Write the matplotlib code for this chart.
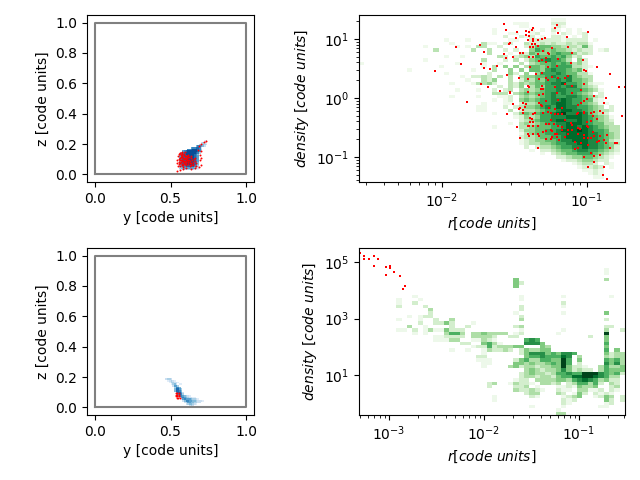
import numpy as np
import matplotlib
matplotlib.use('Agg')
import matplotlib.pyplot as plt
from matplotlib.ticker import NullLocator

# Box drawn in the position panels
box_x = [0, 1, 1, 0, 0]
box_y = [0, 0, 1, 1, 0]

# Position histogram, upper panel (Blues levels, first row 75 and first column 54 of 100)
pos_top_rows = [
    "000000000000000012", "000000000000002321", "000000000000034432",
    "00000000000466542", "000000005667762", "000000667888763",
    "000567888888762", "00567888888763", "0567788888764", "0567778888765",
    "0567778888765", "0567788888765", "0567788888765", "0567778888764",
    "0567778888764", "0456677777653", "0344555555432", "0122333333211",
]
# Red points, upper panel
pos_top_y = [.736, .719, .703, .688, .682, .703, .692, .703, .692, .703, .688, .660, .638, .584, .562, .540,
             .551, .544, .544, .551, .562, .579, .594, .616, .638, .660, .562, .573, .584, .594, .605, .616,
             .627, .638, .562, .584, .605, .627, .649, .671, .660, .573, .594, .562, .584, .616, .562, .584,
             .605, .671, .556, .568, .577, .589, .599, .611, .622, .633, .557, .566, .579, .588, .601, .609,
             .624, .642, .553, .571, .583, .592, .603, .618, .629, .651, .559, .574, .587, .596, .613, .636,
             .565, .578, .591, .607, .575, .568, .598, .612, .645, .655]
pos_top_z = [.222, .211, .202, .189, .163, .152, .130, .108, .098, .065, .050, .043, .037, .037, .032, .021,
             .054, .076, .098, .119, .141, .148, .146, .130, .119, .108, .108, .098, .087, .108, .087, .098,
             .087, .076, .076, .065, .065, .054, .065, .076, .087, .124, .124, .093, .108, .115, .054, .050,
             .043, .054, .134, .128, .136, .131, .118, .122, .112, .105, .101, .112, .117, .099, .103, .093,
             .092, .098, .085, .082, .091, .079, .076, .081, .072, .081, .066, .071, .074, .069, .068, .062,
             .141, .139, .136, .109, .060, .093, .091, .085, .071, .102]

# Position histogram, lower panel (first row 78 and first column 47 of 100)
pos_bot_rows = [
    "2332", "012321", "00133221", "0001342011", "00002553", "000003664",
    "0000047753", "0000047764", "00000057752", "00000036763", "000000036654321",
    "000000002565432211", "00000000025655543321", "00000000002466554432221",
    "000000000002355443322", "0000000000002344321", "00000000000000232",
]
pos_bot_y = [.535, .545, .555, .535, .545, .555, .535, .545, .555, .540, .550, .560]
pos_bot_z = [.095, .095, .095, .085, .085, .085, .075, .075, .075, .065, .065, .065]

# Density histogram, upper panel: level rows starting at column 22 of 50
top_rows = [
    "", "00000000000000111", "00000001110000222", "00000000110000121",
    "00010000001010210101", "000100110012001021012", "000002002120102210102",
    "00000011002222221222201", "0311022003223232232331", "3300200002355544333252",
    "0030020200465454432322012", "0030001032544456554232", "00003202343655656423",
    "030002030245676653042", "010010003034556565342", "0103040403554566663321",
    "000300404055467665452", "0020004204046667655331", "2320303034455676675433",
    "0324003024354667675543", "334200324345567786654211", "000020324035466767754320",
    "100202303434566776665431", "000333034545567676654302", "100011203434567667765432",
    "000101204545667787665521", "0100011023346678876654311", "11000202344567688776654302",
    "11000030233456678877654332", "0001000245456678977875432", "00000001243466777888765431",
    "00000000234566788778765432", "00000010343456677888765533", "000100003345556678878765433",
    "000000002445566788898766533", "000000001345566778888776543", "000000002334556678888776543",
    "000000001234455677888776532", "000000001233445667788776543", "000000000202334566778776542",
    "000000000010223455677665432", "000000000000102345566654321", "00000000000000022344554321",
    "0000000000000000122344322", "00000000000000000012332021",
    "00000000000000000001223201", "000000000000000000001121",
    "000000000000000000000121", "000000000000000000000011", "",
]
top_low_col = [0, 9, 12, 14, 12, 16, 16, 17, 15, 16, 17, 18, 18, 18, 17, 19, 19, 20, 20, 21, 21, 20, 21, 21]
top_low_row = [14, 16, 9, 10, 13, 7, 12, 8, 15, 17, 20, 9, 14, 22, 24, 18, 12, 7, 9, 10, 16, 19, 18, 20]
top_low_level = [1, 1, 1, 3, 1, 1, 1, 1, 1, 1, 1, 1, 1, 1, 1, 1, 1, 1, 1, 3, 1, 1, 2, 1]

# Red points, upper density panel (log10 of r and density)
top_log_r = [-1.57, -1.56, -1.21, -1.22, -1.20, -1.37, -1.38, -1.42, -1.40, -1.48, -1.42, -1.40, -0.99, -1.49, -1.41,
             -1.37, -1.37, -1.34, -1.31, -1.29, -1.14, -1.54, -1.53, -1.38, -1.36, -1.39, -1.37, -1.34, -1.49, -1.24,
             -1.13, -1.71, -1.57, -1.56, -1.51, -1.46, -1.44, -1.40, -1.37, -1.34, -1.30, -1.27, -1.26, -1.28, -1.31,
             -1.33, -1.20, -1.10, -1.03, -1.11, -1.28, -1.73, -1.71, -1.67, -1.62, -1.39, -1.27, -1.21, -1.02, -1.01,
             -0.93, -0.84, -1.35, -1.31, -1.55, -1.47, -1.41, -1.33, -1.28, -1.27, -1.24, -1.20, -1.15, -1.13, -1.73,
             -1.68, -1.60, -1.53, -1.53, -1.41, -1.40, -1.41, -1.31, -1.32, -1.30, -1.22, -1.15, -1.10, -1.02, -0.78,
             -0.74, -1.04, -1.21, -1.10, -1.30, -1.33, -0.95, -1.00, -1.02, -0.87, -0.88, -1.28, -1.20, -1.33, -1.44,
             -1.42, -1.51, -1.32, -1.31, -1.06, -1.04, -1.43, -1.46, -1.47, -1.44, -1.17, -1.22, -1.26, -1.55, -1.44,
             -1.36, -1.37, -1.30, -1.27, -1.25, -1.22, -1.20, -1.17, -1.07, -1.06, -1.02, -1.02, -0.97, -0.95, -0.91,
             -0.89, -0.96, -0.76, -1.39, -1.38, -1.15, -1.25, -0.97, -0.93, -1.39, -1.37, -1.40, -1.41, -1.37, -1.34,
             -1.48, -1.28, -1.26, -1.23, -1.20, -1.17, -1.11, -1.10, -1.06, -1.05, -1.00, -1.00, -0.99, -1.30, -1.28,
             -1.25, -1.24, -1.17, -1.13, -1.10, -0.96, -1.41, -1.40, -1.37, -1.34, -1.33, -1.46, -1.28, -1.25, -1.24,
             -1.22, -1.21, -1.21, -1.19, -1.15, -1.13, -1.06, -1.02, -1.02, -0.99, -0.97, -0.95, -0.91, -0.86, -0.92,
             -0.88, -0.87, -0.93, -1.04, -1.08, -0.99, -0.84, -0.81, -0.79, -1.08, -1.06, -1.34, -0.97, -1.02, -0.95,
             -0.91, -0.95, -0.99, -0.88, -0.89, -0.86, -2.05, -1.90, -1.74, -1.87, -1.83]
top_log_rho = [1.25, 1.15, 1.24, 1.18, 1.10, 1.18, 1.16, 1.13, 1.12, 1.12, 1.07, 1.05, 1.12, 1.02, .98,
               1.00, .96, .98, 1.00, 1.02, 1.03, .91, .93, .91, .91, .86, .86, .88, .86, .85,
               .86, .78, .74, .68, .69, .76, .76, .69, .69, .74, .79, .76, .74, .67, .64,
               .63, .66, .76, .64, .59, .61, .57, .51, .49, .54, .52, .52, .54, .47, .46,
               .52, .41, .41, .42, .39, .34, .32, .32, .34, .30, .35, .34, .34, .37, .24,
               .19, .12, .10, .08, .20, .19, .11, .20, .15, .15, .19, .24, .20, .24, .19,
               .19, .13, .08, .08, .07, .05, .03, -.02, -.05, 0, -.09, -.05, -.04, -.09, -.09,
               -.10, -.10, -.12, -.14, -.12, -.09, -.15, -.17, -.19, -.20, -.17, -.19, -.17, -.27, -.26,
               -.26, -.27, -.26, -.24, -.26, -.27, -.27, -.27, -.27, -.26, -.24, -.26, -.26, -.24, -.22,
               -.26, -.31, -.31, -.34, -.36, -.37, -.37, -.39, -.36, -.41, -.41, -.48, -.48, -.48, -.48,
               -.49, -.44, -.44, -.44, -.48, -.49, -.43, -.46, -.51, -.53, -.41, -.48, -.49, -.58, -.56,
               -.54, -.56, -.54, -.55, -.54, -.58, -.61, -.65, -.61, -.61, -.65, -.68, -.70, -.70, -.66,
               -.61, -.61, -.66, -.71, -.66, -.61, -.61, -.63, -.68, -.68, -.68, -.65, -.65, -.63, -.73,
               -.71, -.76, -.75, -.76, -.75, -.80, -.85, -.76, -.76, -.87, -.85, -.85, -.93, -1.00, -.98,
               -.97, -1.09, -1.17, -1.17, -1.31, -1.37, .46, .86, .90, .58, -.07]

# Density histogram, lower panel: level rows starting at column 23 of 50
bot_rows = [
    "", "", "", "", "", "", "000000000000000000000001", "000000000000000000000001", "",
    "000000400000000000000003", "00000042", "0000004", "", "",
    "0000000100000001000000001", "00000001", "0000000000000002", "0000000200000001",
    "00000002", "000000100000000100000004", "00000002", "000000030000000000000002", "",
    "0000002300000000000000022", "000000010000000100000003002",
    "433330120000001000000008", "332002200000000000002004", "321000005650000000000004",
    "453100006664000000000005", "252333440004300000000004", "13223202433440000000000504",
    "100000024666454665000004233", "200000004556555760300003233",
    "110000245335544850400005453", "110000443433454950200006463",
    "100003423323344842210035334", "000000003432334642322035444",
    "000000023433235565588965452", "00000002332332455778976533",
    "00000012203333443567653422", "02300132210332302355352032",
    "02000022301000112143340023", "00000032232100211033112021",
    "0000000023300032014202121", "001000000210000123400124302",
    "001000000000000212000004202", "0000000000000002100000012",
    "000000000100000100000011", "000000000000001", "0000000000000033",
]
bot_low_col = [7, 7, 7, 10, 10, 11, 12, 13, 13, 7, 9, 11, 11, 12, 13, 14, 17, 11, 12, 14, 15, 16, 17, 17, 20, 21, 9,
               7, 8, 10, 12, 13, 14, 15, 16, 17, 18, 19, 10, 12, 16, 17, 18, 19, 21, 22, 14, 15, 16, 17, 18, 19,
               21, 22, 14, 15, 16, 17, 18, 21, 22, 19, 20, 21, 22, 17, 20, 22, 22]
bot_low_row = [15, 16, 17, 14, 16, 15, 17, 18, 19, 21, 20, 20, 21, 20, 20, 21, 21, 22, 23, 22, 22, 22, 22, 23, 23, 22, 23,
               24, 24, 24, 24, 24, 24, 24, 24, 24, 24, 24, 25, 25, 25, 25, 25, 25, 25, 25, 26, 26, 26, 26, 26, 26,
               26, 26, 27, 27, 27, 27, 27, 27, 27, 28, 28, 29, 29, 30, 30, 32, 33]
bot_low_level = [1, 1, 2, 1, 2, 1, 2, 3, 2, 1, 1, 1, 1, 2, 2, 2, 3, 2, 1, 2, 2, 4, 2, 2, 2, 1, 3,
                 1, 1, 2, 1, 3, 1, 1, 4, 2, 2, 2, 1, 1, 3, 5, 5, 3, 3, 3, 1, 1, 2, 2, 2, 2,
                 3, 3, 1, 1, 1, 3, 3, 1, 1, 2, 2, 1, 2, 1, 1, 2, 1]

# Red points, lower density panel (log10 of r and density)
bot_log_r = [-3.31, -3.26, -3.26, -3.21, -3.16, -3.12, -3.16, -3.03, -2.99, -2.99, -2.95, -3.03, -2.88, -2.83, -2.85]
bot_log_rho = [5.33, 5.22, 5.10, 5.10, 5.21, 5.10, 4.86, 4.82, 4.86, 4.79, 4.64, 4.54, 4.50, 4.15, 4.04]


def make_grid(n, rows, first_row, first_col):
    grid = np.zeros((n, n))
    for i, row in enumerate(rows):
        for j, level in enumerate(row):
            grid[first_row + i, first_col + j] = int(level)
    return grid


def position_panel(ax, rows, first_row, first_col, red_y, red_z):
    edges = np.linspace(-0.05, 1.05, 101)
    grid = make_grid(100, rows, first_row, first_col)
    ax.pcolormesh(edges, edges[::-1], np.ma.masked_equal(grid, 0), cmap='Blues', vmin=0, vmax=9)
    ax.plot(box_x, box_y, color='gray', linewidth=1.5)
    ax.scatter(red_y, red_z, s=2, c='red', linewidths=0)
    ax.set_xlim(-0.05, 1.05)
    ax.set_ylim(-0.05, 1.05)
    ax.set_xticks([0, 0.5, 1.0])
    ax.set_yticks([0, 0.2, 0.4, 0.6, 0.8, 1.0])
    ax.set_xlabel('y [code units]')
    ax.set_ylabel('z [code units]')


def density_panel(ax, grid, xlim, ylim, log_r, log_rho, top_level):
    x_edges = np.logspace(xlim[0], xlim[1], 51)
    y_edges = np.logspace(ylim[1], ylim[0], 51)
    ax.pcolormesh(x_edges, y_edges, np.ma.masked_equal(grid, 0), cmap='Greens', vmin=0.5, vmax=top_level)
    ax.scatter(10.0 ** np.array(log_r), 10.0 ** np.array(log_rho), s=2, c='red', marker='s', linewidths=0)
    ax.set_xscale('log')
    ax.set_yscale('log')
    ax.set_xlim(10 ** xlim[0], 10 ** xlim[1])
    ax.set_ylim(10 ** ylim[0], 10 ** ylim[1])
    ax.set_xlabel(r'$r[code\ units]$')
    ax.set_ylabel(r'$density\ [code\ units]$')


fig = plt.figure(figsize=(6.4, 4.8), dpi=100)

ax1 = fig.add_axes([87 / 640, 298 / 480, 167 / 640, 167 / 480])
position_panel(ax1, pos_top_rows, 75, 54, pos_top_y, pos_top_z)

ax3 = fig.add_axes([87 / 640, 65 / 480, 167 / 640, 167 / 480])
position_panel(ax3, pos_bot_rows, 78, 47, pos_bot_y, pos_bot_z)

grid_top = make_grid(50, top_rows, 0, 22)
grid_top[top_low_row, top_low_col] = top_low_level
ax2 = fig.add_axes([359 / 640, 298 / 480, 266 / 640, 167 / 480])
density_panel(ax2, grid_top, (-2.572, -0.738), (-1.424, 1.407), top_log_r, top_log_rho, 9)

grid_bot = make_grid(50, bot_rows, 0, 23)
grid_bot[bot_low_row, bot_low_col] = bot_low_level
ax4 = fig.add_axes([359 / 640, 65 / 480, 266 / 640, 167 / 480])
density_panel(ax4, grid_bot, (-3.316, -0.516), (-0.416, 5.5), bot_log_r, bot_log_rho, 8)
ax4.set_yticks([1e1, 1e3, 1e5])
ax4.yaxis.set_minor_locator(NullLocator())

fig.savefig('out.png', dpi=100)
